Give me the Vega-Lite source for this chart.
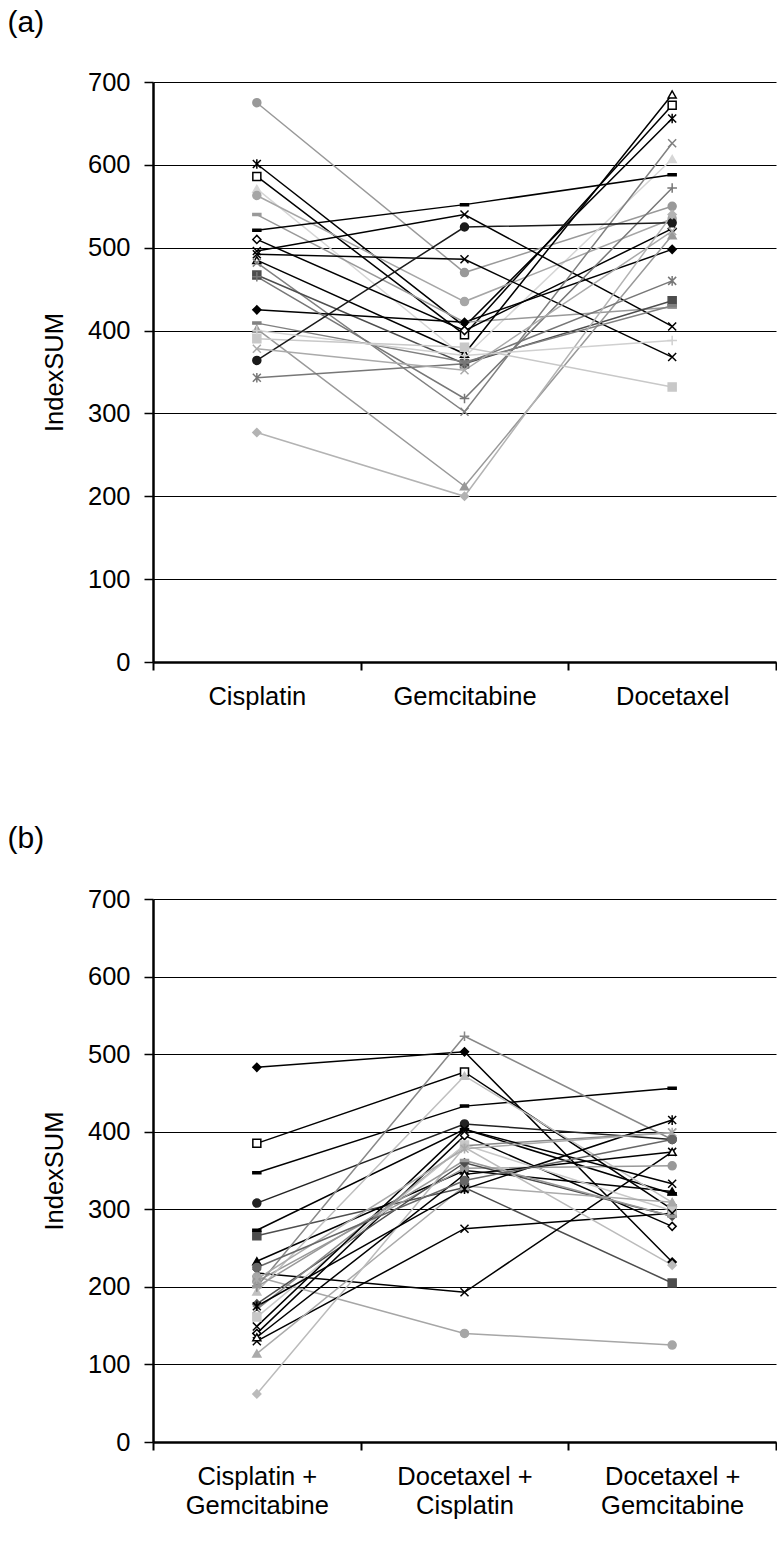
{
  "$schema": "https://vega.github.io/schema/vega-lite/v6.json",
  "padding": {"left": 7, "top": 8, "right": 0, "bottom": 0},
  "background": "white",
  "spacing": 114,
  "config": {
    "view": {"stroke": null},
    "font": "Liberation Sans",
    "title": {"font": "Liberation Sans", "fontSize": 30, "fontWeight": "normal", "anchor": "start", "color": "#000"},
    "axis": {
      "labelFont": "Liberation Sans", "labelFontSize": 25.5, "labelColor": "#000",
      "titleFont": "Liberation Sans", "titleFontSize": 25.5, "titleFontWeight": "normal", "titleColor": "#000",
      "domainColor": "#000", "tickColor": "#000"
    }
  },
  "resolve": {"scale": {"color": "independent", "fill": "independent", "stroke": "independent", "shape": "independent", "x": "independent", "y": "independent"}},
  "vconcat": [
    {
      "title": {"text": "(a)", "offset": 32, "dx": -35},
      "width": 623,
      "height": 580,
      "data": {"values": [
        {"p": "a1", "drug": "Cisplatin", "v": 675}, {"p": "a1", "drug": "Gemcitabine", "v": 470}, {"p": "a1", "drug": "Docetaxel", "v": 550},
        {"p": "a2", "drug": "Cisplatin", "v": 601}, {"p": "a2", "drug": "Gemcitabine", "v": 405}, {"p": "a2", "drug": "Docetaxel", "v": 656},
        {"p": "a3", "drug": "Cisplatin", "v": 586}, {"p": "a3", "drug": "Gemcitabine", "v": 395}, {"p": "a3", "drug": "Docetaxel", "v": 672},
        {"p": "a4", "drug": "Cisplatin", "v": 571}, {"p": "a4", "drug": "Gemcitabine", "v": 368}, {"p": "a4", "drug": "Docetaxel", "v": 607},
        {"p": "a5", "drug": "Cisplatin", "v": 563}, {"p": "a5", "drug": "Gemcitabine", "v": 435}, {"p": "a5", "drug": "Docetaxel", "v": 535},
        {"p": "a6", "drug": "Cisplatin", "v": 540}, {"p": "a6", "drug": "Gemcitabine", "v": 410}, {"p": "a6", "drug": "Docetaxel", "v": 428},
        {"p": "a7", "drug": "Cisplatin", "v": 521}, {"p": "a7", "drug": "Gemcitabine", "v": 552}, {"p": "a7", "drug": "Docetaxel", "v": 588},
        {"p": "a8", "drug": "Cisplatin", "v": 510}, {"p": "a8", "drug": "Gemcitabine", "v": 400}, {"p": "a8", "drug": "Docetaxel", "v": 523},
        {"p": "a9", "drug": "Cisplatin", "v": 496}, {"p": "a9", "drug": "Gemcitabine", "v": 540}, {"p": "a9", "drug": "Docetaxel", "v": 405},
        {"p": "a10", "drug": "Cisplatin", "v": 492}, {"p": "a10", "drug": "Gemcitabine", "v": 486}, {"p": "a10", "drug": "Docetaxel", "v": 368},
        {"p": "a11", "drug": "Cisplatin", "v": 485}, {"p": "a11", "drug": "Gemcitabine", "v": 372}, {"p": "a11", "drug": "Docetaxel", "v": 685},
        {"p": "a12", "drug": "Cisplatin", "v": 482}, {"p": "a12", "drug": "Gemcitabine", "v": 302}, {"p": "a12", "drug": "Docetaxel", "v": 626},
        {"p": "a13", "drug": "Cisplatin", "v": 467}, {"p": "a13", "drug": "Gemcitabine", "v": 360}, {"p": "a13", "drug": "Docetaxel", "v": 436},
        {"p": "a14", "drug": "Cisplatin", "v": 425}, {"p": "a14", "drug": "Gemcitabine", "v": 410}, {"p": "a14", "drug": "Docetaxel", "v": 498},
        {"p": "a15", "drug": "Cisplatin", "v": 465}, {"p": "a15", "drug": "Gemcitabine", "v": 318}, {"p": "a15", "drug": "Docetaxel", "v": 572},
        {"p": "a16", "drug": "Cisplatin", "v": 402}, {"p": "a16", "drug": "Gemcitabine", "v": 212}, {"p": "a16", "drug": "Docetaxel", "v": 515},
        {"p": "a17", "drug": "Cisplatin", "v": 390}, {"p": "a17", "drug": "Gemcitabine", "v": 380}, {"p": "a17", "drug": "Docetaxel", "v": 332},
        {"p": "a18", "drug": "Cisplatin", "v": 409}, {"p": "a18", "drug": "Gemcitabine", "v": 362}, {"p": "a18", "drug": "Docetaxel", "v": 430},
        {"p": "a19", "drug": "Cisplatin", "v": 364}, {"p": "a19", "drug": "Gemcitabine", "v": 525}, {"p": "a19", "drug": "Docetaxel", "v": 530},
        {"p": "a20", "drug": "Cisplatin", "v": 343}, {"p": "a20", "drug": "Gemcitabine", "v": 360}, {"p": "a20", "drug": "Docetaxel", "v": 460},
        {"p": "a21", "drug": "Cisplatin", "v": 277}, {"p": "a21", "drug": "Gemcitabine", "v": 200}, {"p": "a21", "drug": "Docetaxel", "v": 540},
        {"p": "a22", "drug": "Cisplatin", "v": 400}, {"p": "a22", "drug": "Gemcitabine", "v": 370}, {"p": "a22", "drug": "Docetaxel", "v": 388},
        {"p": "a23", "drug": "Cisplatin", "v": 378}, {"p": "a23", "drug": "Gemcitabine", "v": 352}, {"p": "a23", "drug": "Docetaxel", "v": 520}
      ]},
      "encoding": {
        "x": {"field": "drug", "type": "nominal", "sort": ["Cisplatin", "Gemcitabine", "Docetaxel"],
              "scale": {"type": "band", "paddingInner": 0, "paddingOuter": 0},
              "axis": {"title": null, "labelAngle": 0, "tickBand": "extent", "domainWidth": 2.5, "tickWidth": 2, "tickSize": 8, "labelPadding": 14}},
        "y": {"field": "v", "type": "quantitative", "scale": {"domain": [0, 700], "nice": false},
              "axis": {"title": "IndexSUM", "values": [0, 100, 200, 300, 400, 500, 600, 700], "grid": true, "gridColor": "#000", "gridWidth": 1,
                       "domainWidth": 2.5, "tickWidth": 1.5, "tickSize": 9, "labelPadding": 14, "titlePadding": 20}}
      },
      "layer": [
        {"mark": {"type": "line", "strokeWidth": 1.5},
         "encoding": {"color": {"field": "p", "type": "nominal", "legend": null,
           "scale": {"domain": ["a1","a2","a3","a4","a5","a6","a7","a8","a9","a10","a11","a12","a13","a14","a15","a16","a17","a18","a19","a20","a21","a22","a23"],
                     "range": ["#999999","#000000","#000000","#d6d6d6","#a6a6a6","#999999","#000000","#000000","#000000","#000000","#000000","#808080","#4d4d4d","#000000","#777777","#999999","#c8c8c8","#808080","#1a1a1a","#777777","#b3b3b3","#d0d0d0","#aaaaaa"]}}}},
        {"mark": {"type": "point", "size": 64, "strokeWidth": 1.5, "opacity": 1},
         "encoding": {
           "shape": {"field": "p", "type": "nominal", "legend": null,
             "scale": {"domain": ["a1","a2","a3","a4","a5","a6","a7","a8","a9","a10","a11","a12","a13","a14","a15","a16","a17","a18","a19","a20","a21","a22","a23"],
                       "range": ["circle","M-1,-1L1,1M-1,1L1,-1M0,-1.2L0,1.2","square","triangle-up","circle","M-1,-0.25L1,-0.25L1,0.25L-1,0.25Z","M-1,-0.25L1,-0.25L1,0.25L-1,0.25Z","diamond","M-1,-1L1,1M-1,1L1,-1","M-1,-1L1,1M-1,1L1,-1","triangle-up","M-1,-1L1,1M-1,1L1,-1","square","diamond","M-1.2,0L1.2,0M0,-1.2L0,1.2","triangle-up","square","M-1,-0.25L1,-0.25L1,0.25L-1,0.25Z","circle","M-1,-1L1,1M-1,1L1,-1M0,-1.2L0,1.2","diamond","M-1.2,0L1.2,0M0,-1.2L0,1.2","M-1,-1L1,1M-1,1L1,-1"]}},
           "fill": {"field": "p", "type": "nominal", "legend": null,
             "scale": {"domain": ["a1","a2","a3","a4","a5","a6","a7","a8","a9","a10","a11","a12","a13","a14","a15","a16","a17","a18","a19","a20","a21","a22","a23"],
                       "range": ["#999999","#000000","#ffffff","#d6d6d6","#a6a6a6","#999999","#000000","#ffffff","#000000","#000000","#ffffff","#808080","#4d4d4d","#000000","#777777","#999999","#c8c8c8","#808080","#1a1a1a","#777777","#b3b3b3","#d0d0d0","#aaaaaa"]}},
           "stroke": {"field": "p", "type": "nominal", "legend": null,
             "scale": {"domain": ["a1","a2","a3","a4","a5","a6","a7","a8","a9","a10","a11","a12","a13","a14","a15","a16","a17","a18","a19","a20","a21","a22","a23"],
                       "range": ["#999999","#000000","#000000","#d6d6d6","#a6a6a6","#999999","#000000","#000000","#000000","#000000","#000000","#808080","#4d4d4d","#000000","#777777","#999999","#c8c8c8","#808080","#1a1a1a","#777777","#b3b3b3","#d0d0d0","#aaaaaa"]}}
         }}
      ]
    },
    {
      "title": {"text": "(b)", "offset": 33, "dx": -35},
      "width": 623,
      "height": 543,
      "data": {"values": [
        {"p": "b1", "drug": "Cisplatin + Gemcitabine", "v": 483}, {"p": "b1", "drug": "Docetaxel + Cisplatin", "v": 503}, {"p": "b1", "drug": "Docetaxel + Gemcitabine", "v": 232},
        {"p": "b2", "drug": "Cisplatin + Gemcitabine", "v": 140}, {"p": "b2", "drug": "Docetaxel + Cisplatin", "v": 395}, {"p": "b2", "drug": "Docetaxel + Gemcitabine", "v": 278},
        {"p": "b3", "drug": "Cisplatin + Gemcitabine", "v": 385}, {"p": "b3", "drug": "Docetaxel + Cisplatin", "v": 477}, {"p": "b3", "drug": "Docetaxel + Gemcitabine", "v": 300},
        {"p": "b4", "drug": "Cisplatin + Gemcitabine", "v": 347}, {"p": "b4", "drug": "Docetaxel + Cisplatin", "v": 433}, {"p": "b4", "drug": "Docetaxel + Gemcitabine", "v": 456},
        {"p": "b5", "drug": "Cisplatin + Gemcitabine", "v": 308}, {"p": "b5", "drug": "Docetaxel + Cisplatin", "v": 410}, {"p": "b5", "drug": "Docetaxel + Gemcitabine", "v": 390},
        {"p": "b6", "drug": "Cisplatin + Gemcitabine", "v": 266}, {"p": "b6", "drug": "Docetaxel + Cisplatin", "v": 328}, {"p": "b6", "drug": "Docetaxel + Gemcitabine", "v": 205},
        {"p": "b7", "drug": "Cisplatin + Gemcitabine", "v": 273}, {"p": "b7", "drug": "Docetaxel + Cisplatin", "v": 403}, {"p": "b7", "drug": "Docetaxel + Gemcitabine", "v": 320},
        {"p": "b8", "drug": "Cisplatin + Gemcitabine", "v": 233}, {"p": "b8", "drug": "Docetaxel + Cisplatin", "v": 350}, {"p": "b8", "drug": "Docetaxel + Gemcitabine", "v": 323},
        {"p": "b9", "drug": "Cisplatin + Gemcitabine", "v": 218}, {"p": "b9", "drug": "Docetaxel + Cisplatin", "v": 193}, {"p": "b9", "drug": "Docetaxel + Gemcitabine", "v": 374},
        {"p": "b10", "drug": "Cisplatin + Gemcitabine", "v": 213}, {"p": "b10", "drug": "Docetaxel + Cisplatin", "v": 140}, {"p": "b10", "drug": "Docetaxel + Gemcitabine", "v": 125},
        {"p": "b11", "drug": "Cisplatin + Gemcitabine", "v": 207}, {"p": "b11", "drug": "Docetaxel + Cisplatin", "v": 353}, {"p": "b11", "drug": "Docetaxel + Gemcitabine", "v": 356},
        {"p": "b12", "drug": "Cisplatin + Gemcitabine", "v": 194}, {"p": "b12", "drug": "Docetaxel + Cisplatin", "v": 472}, {"p": "b12", "drug": "Docetaxel + Gemcitabine", "v": 309},
        {"p": "b13", "drug": "Cisplatin + Gemcitabine", "v": 178}, {"p": "b13", "drug": "Docetaxel + Cisplatin", "v": 360}, {"p": "b13", "drug": "Docetaxel + Gemcitabine", "v": 291},
        {"p": "b14", "drug": "Cisplatin + Gemcitabine", "v": 171}, {"p": "b14", "drug": "Docetaxel + Cisplatin", "v": 382}, {"p": "b14", "drug": "Docetaxel + Gemcitabine", "v": 399},
        {"p": "b15", "drug": "Cisplatin + Gemcitabine", "v": 161}, {"p": "b15", "drug": "Docetaxel + Cisplatin", "v": 383}, {"p": "b15", "drug": "Docetaxel + Gemcitabine", "v": 298},
        {"p": "b16", "drug": "Cisplatin + Gemcitabine", "v": 149}, {"p": "b16", "drug": "Docetaxel + Cisplatin", "v": 403}, {"p": "b16", "drug": "Docetaxel + Gemcitabine", "v": 333},
        {"p": "b17", "drug": "Cisplatin + Gemcitabine", "v": 130}, {"p": "b17", "drug": "Docetaxel + Cisplatin", "v": 275}, {"p": "b17", "drug": "Docetaxel + Gemcitabine", "v": 295},
        {"p": "b18", "drug": "Cisplatin + Gemcitabine", "v": 135}, {"p": "b18", "drug": "Docetaxel + Cisplatin", "v": 345}, {"p": "b18", "drug": "Docetaxel + Gemcitabine", "v": 374},
        {"p": "b19", "drug": "Cisplatin + Gemcitabine", "v": 114}, {"p": "b19", "drug": "Docetaxel + Cisplatin", "v": 330}, {"p": "b19", "drug": "Docetaxel + Gemcitabine", "v": 309},
        {"p": "b20", "drug": "Cisplatin + Gemcitabine", "v": 62}, {"p": "b20", "drug": "Docetaxel + Cisplatin", "v": 380}, {"p": "b20", "drug": "Docetaxel + Gemcitabine", "v": 228},
        {"p": "b21", "drug": "Cisplatin + Gemcitabine", "v": 200}, {"p": "b21", "drug": "Docetaxel + Cisplatin", "v": 523}, {"p": "b21", "drug": "Docetaxel + Gemcitabine", "v": 390},
        {"p": "b22", "drug": "Cisplatin + Gemcitabine", "v": 175}, {"p": "b22", "drug": "Docetaxel + Cisplatin", "v": 326}, {"p": "b22", "drug": "Docetaxel + Gemcitabine", "v": 415},
        {"p": "b23", "drug": "Cisplatin + Gemcitabine", "v": 200}, {"p": "b23", "drug": "Docetaxel + Cisplatin", "v": 363}, {"p": "b23", "drug": "Docetaxel + Gemcitabine", "v": 291},
        {"p": "b24", "drug": "Cisplatin + Gemcitabine", "v": 210}, {"p": "b24", "drug": "Docetaxel + Cisplatin", "v": 378}, {"p": "b24", "drug": "Docetaxel + Gemcitabine", "v": 399},
        {"p": "b25", "drug": "Cisplatin + Gemcitabine", "v": 225}, {"p": "b25", "drug": "Docetaxel + Cisplatin", "v": 337}, {"p": "b25", "drug": "Docetaxel + Gemcitabine", "v": 390}
      ]},
      "encoding": {
        "x": {"field": "drug", "type": "nominal", "sort": ["Cisplatin + Gemcitabine", "Docetaxel + Cisplatin", "Docetaxel + Gemcitabine"],
              "scale": {"type": "band", "paddingInner": 0, "paddingOuter": 0},
              "axis": {"title": null, "labelAngle": 0, "tickBand": "extent", "domainWidth": 2.5, "tickWidth": 2, "tickSize": 8, "labelPadding": 14, "labelLineHeight": 29,
                       "labelExpr": "[slice(datum.label, 0, indexof(datum.label, '+') + 1), trim(slice(datum.label, indexof(datum.label, '+') + 1))]"}},
        "y": {"field": "v", "type": "quantitative", "scale": {"domain": [0, 700], "nice": false},
              "axis": {"title": "IndexSUM", "values": [0, 100, 200, 300, 400, 500, 600, 700], "grid": true, "gridColor": "#000", "gridWidth": 1,
                       "domainWidth": 2.5, "tickWidth": 1.5, "tickSize": 9, "labelPadding": 14, "titlePadding": 20}}
      },
      "layer": [
        {"mark": {"type": "line", "strokeWidth": 1.5},
         "encoding": {"color": {"field": "p", "type": "nominal", "legend": null,
           "scale": {"domain": ["b1","b2","b3","b4","b5","b6","b7","b8","b9","b10","b11","b12","b13","b14","b15","b16","b17","b18","b19","b20","b21","b22","b23","b24","b25"],
                     "range": ["#000000","#000000","#000000","#000000","#222222","#4d4d4d","#000000","#000000","#000000","#a6a6a6","#999999","#c0c0c0","#4d4d4d","#888888","#c8c8c8","#000000","#000000","#000000","#aaaaaa","#bbbbbb","#888888","#000000","#999999","#aaaaaa","#666666"]}}}},
        {"mark": {"type": "point", "size": 64, "strokeWidth": 1.5, "opacity": 1},
         "encoding": {
           "shape": {"field": "p", "type": "nominal", "legend": null,
             "scale": {"domain": ["b1","b2","b3","b4","b5","b6","b7","b8","b9","b10","b11","b12","b13","b14","b15","b16","b17","b18","b19","b20","b21","b22","b23","b24","b25"],
                       "range": ["diamond","diamond","square","M-1,-0.25L1,-0.25L1,0.25L-1,0.25Z","circle","square","M-1,-0.25L1,-0.25L1,0.25L-1,0.25Z","triangle-up","M-1,-1L1,1M-1,1L1,-1","circle","circle","triangle-up","diamond","M-1,-1L1,1M-1,1L1,-1","square","M-1,-1L1,1M-1,1L1,-1","M-1,-1L1,1M-1,1L1,-1","triangle-up","triangle-up","diamond","M-1.2,0L1.2,0M0,-1.2L0,1.2","M-1,-1L1,1M-1,1L1,-1M0,-1.2L0,1.2","M-1,-0.25L1,-0.25L1,0.25L-1,0.25Z","M-1,-1L1,1M-1,1L1,-1M0,-1.2L0,1.2","circle"]}},
           "fill": {"field": "p", "type": "nominal", "legend": null,
             "scale": {"domain": ["b1","b2","b3","b4","b5","b6","b7","b8","b9","b10","b11","b12","b13","b14","b15","b16","b17","b18","b19","b20","b21","b22","b23","b24","b25"],
                       "range": ["#000000","#ffffff","#ffffff","#000000","#222222","#4d4d4d","#000000","#000000","#000000","#a6a6a6","#999999","#c0c0c0","#4d4d4d","#888888","#c8c8c8","#000000","#000000","#ffffff","#aaaaaa","#bbbbbb","#888888","#000000","#999999","#aaaaaa","#666666"]}},
           "stroke": {"field": "p", "type": "nominal", "legend": null,
             "scale": {"domain": ["b1","b2","b3","b4","b5","b6","b7","b8","b9","b10","b11","b12","b13","b14","b15","b16","b17","b18","b19","b20","b21","b22","b23","b24","b25"],
                       "range": ["#000000","#000000","#000000","#000000","#222222","#4d4d4d","#000000","#000000","#000000","#a6a6a6","#999999","#c0c0c0","#4d4d4d","#888888","#c8c8c8","#000000","#000000","#000000","#aaaaaa","#bbbbbb","#888888","#000000","#999999","#aaaaaa","#666666"]}}
         }}
      ]
    }
  ]
}
